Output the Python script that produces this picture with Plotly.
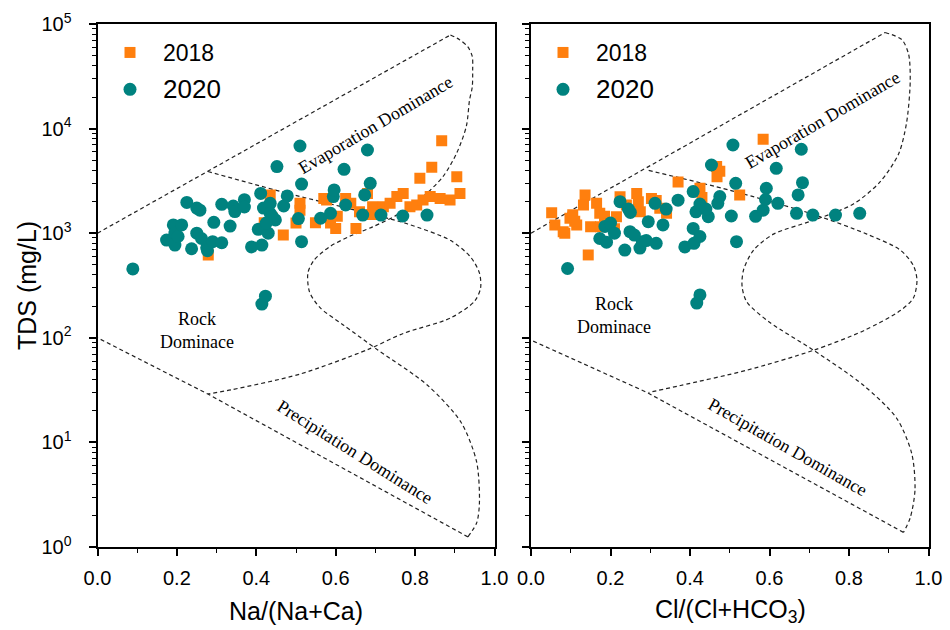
import plotly.graph_objects as go

# ---------------- data ----------------
# Left panel: Na/(Na+Ca) vs TDS
na_2018 = [0.279, 0.435, 0.42, 0.44, 0.468, 0.51, 0.51, 0.50, 0.549, 0.57, 0.587, 0.60, 0.604,
           0.625, 0.638, 0.651, 0.68, 0.693, 0.705, 0.72, 0.737, 0.754, 0.77, 0.787, 0.804,
           0.812, 0.82, 0.838, 0.842, 0.863, 0.867, 0.888, 0.905, 0.913, 0.577, 0.66, 0.69]
tds_na_2018 = [620, 2320, 1260, 1400, 960, 1930, 1660, 1250, 1260, 2150, 1250, 1110, 1450,
               2150, 1930, 1110, 2400, 1790, 1510, 1790, 1930, 2240, 2400, 1790, 1860,
               3350, 2080, 2240, 4270, 2150, 7660, 2080, 3470, 2400, 2080, 1600, 1510]

na_2020 = [0.089, 0.174, 0.191, 0.195, 0.195, 0.203, 0.212, 0.225, 0.237, 0.25, 0.25, 0.258,
           0.262, 0.275, 0.277, 0.29, 0.293, 0.313, 0.313, 0.334, 0.342, 0.346, 0.37, 0.37,
           0.388, 0.405, 0.411, 0.414, 0.414, 0.418, 0.423, 0.43, 0.435, 0.435, 0.448, 0.452,
           0.469, 0.478, 0.506, 0.51, 0.514, 0.514, 0.562, 0.587, 0.594, 0.596, 0.621, 0.625,
           0.668, 0.673, 0.68, 0.687, 0.714, 0.769, 0.83, 0.44, 0.425]
tds_na_2020 = [455, 860, 1200, 1000, 770, 930, 1200, 1970, 710, 1740, 1000, 1660,
               890, 725, 680, 830, 1270, 1890, 810, 1170, 1820, 1610, 2090, 1780,
               740, 1090, 2400, 770, 210, 1740, 250, 1000, 1930, 1550, 1340, 4330,
               1820, 2270, 1380, 6820, 2950, 830, 1390, 1550, 2240, 2590, 4080, 1860,
               1490, 2320, 6240, 3000, 1490, 1460, 1490, 1450, 1250]

# Right panel: Cl/(Cl+HCO3) vs TDS
cl_2018 = [0.052, 0.06, 0.081, 0.085, 0.098, 0.105, 0.115, 0.136, 0.132, 0.144, 0.15, 0.165,
           0.173, 0.175, 0.185, 0.215, 0.224, 0.24, 0.266, 0.27, 0.275, 0.303, 0.315, 0.324,
           0.341, 0.37, 0.425, 0.43, 0.467, 0.468, 0.475, 0.525, 0.584, 0.21, 0.11]
tds_cl_2018 = [1570, 1200, 1035, 1000, 1390, 1500, 1200, 2320, 1860, 620, 1150, 1930,
               1550, 1150, 1450, 1440, 2230, 1860, 2400, 2000, 1600, 2150, 2050, 1730,
               1550, 3090, 2690, 2200, 4330, 3470, 3900, 2320, 7900, 1100, 1300]

cl_2020 = [0.092, 0.173, 0.186, 0.19, 0.20, 0.224, 0.236, 0.245, 0.25, 0.249, 0.274, 0.28,
           0.29, 0.295, 0.312, 0.315, 0.332, 0.34, 0.37, 0.387, 0.408, 0.408, 0.41, 0.415,
           0.425, 0.425, 0.446, 0.454, 0.47, 0.475, 0.504, 0.508, 0.515, 0.517, 0.565, 0.584,
           0.592, 0.59, 0.617, 0.621, 0.668, 0.672, 0.683, 0.68, 0.709, 0.766, 0.827, 0.425,
           0.417, 0.26, 0.21, 0.44]
tds_cl_2020 = [460, 890, 1160, 820, 1250, 2000, 690, 1700, 1580, 1035, 720, 830,
               850, 1290, 1930, 800, 1200, 1700, 2070, 740, 2500, 1110, 800, 1600,
               1900, 930, 1440, 4490, 1930, 2240, 1460, 6970, 3000, 830, 1450, 1660,
               2690, 2100, 4170, 1930, 1550, 2320, 3040, 6350, 1490, 1490, 1550, 257,
               215, 960, 1000, 1700]

# Gibbs boundary curves (left panel), TDS values
L_upper_x = [0.0, 0.889]
L_upper_y = [1000, 78500]
L_outer_x = [0.889, 0.912, 0.933, 0.944, 0.945, 0.944, 0.937, 0.929, 0.904, 0.87, 0.82, 0.752,
             0.693, 0.635, 0.584, 0.545, 0.530, 0.534, 0.56, 0.62, 0.705, 0.832, 0.916, 0.955,
             0.962, 0.955, 0.933]
L_outer_y = [78500, 70800, 60300, 49000, 36300, 25100, 18600, 10500, 5750, 3470, 2240, 1480,
             1150, 933, 740, 550, 417, 275, 195, 132, 77, 35, 15.5, 6.5, 2.6, 1.7, 1.25]
L_lower_x = [0.933, 0.278, 0.0]
L_lower_y = [1.25, 29, 100]
L_inner_x = [0.278, 0.48, 0.65, 0.78, 0.89, 0.94, 0.962, 0.965, 0.95, 0.89, 0.77, 0.68, 0.51,
             0.34, 0.278]
L_inner_y = [3890, 2400, 1660, 1230, 850, 590, 417, 300, 224, 155, 110, 77, 45, 32, 29]

# Gibbs boundary curves (right panel)
R_upper_x = [0.0, 0.891]
R_upper_y = [1000, 83000]
R_outer_x = [0.891, 0.933, 0.95, 0.954, 0.945, 0.925, 0.878, 0.811, 0.711, 0.61, 0.56, 0.535,
             0.531, 0.543, 0.60, 0.711, 0.837, 0.92, 0.958, 0.966, 0.954, 0.937]
R_outer_y = [83000, 70800, 51300, 28200, 11500, 5750, 3090, 1900, 1330, 980, 690, 450,
             310, 220, 141, 76, 35, 17, 7.8, 3.5, 1.9, 1.38]
R_lower_x = [0.937, 0.292, 0.0]
R_lower_y = [1.38, 30, 95]
R_inner_x = [0.296, 0.501, 0.711, 0.845, 0.929, 0.962, 0.971, 0.962, 0.929, 0.837, 0.711,
             0.543, 0.376, 0.296]
R_inner_y = [3980, 2570, 1510, 980, 690, 490, 355, 240, 182, 117, 76, 49, 35, 30]

x_tick_vals = [0.0, 0.2, 0.4, 0.6, 0.8, 1.0]
x_tick_text = ["0.0", "0.2", "0.4", "0.6", "0.8", "1.0"]
y_tick_vals = [1, 10, 100, 1000, 10000, 100000]
y_tick_text = ["10<sup>0</sup>", "10<sup>1</sup>", "10<sup>2</sup>", "10<sup>3</sup>",
               "10<sup>4</sup>", "10<sup>5</sup>"]

ORANGE = "#FF7F0E"
TEAL = "#00827F"
LINE = "#222222"

fig = go.Figure()

def add_panel(xa, ya, xs18, ys18, xs20, ys20, up, outer, low, inner, leg, grp):
    for (bx, by, shape) in [(up[0], up[1], "linear"), (outer[0], outer[1], "spline"),
                            (low[0], low[1], "linear"), (inner[0], inner[1], "spline")]:
        fig.add_trace(go.Scatter(x=bx, y=by, mode="lines", xaxis=xa, yaxis=ya,
                                 line=dict(color=LINE, width=1.2, dash="4px,3px", shape=shape,
                                           smoothing=0.8),
                                 showlegend=False, hoverinfo="skip"))
    fig.add_trace(go.Scatter(x=xs18, y=ys18, mode="markers", xaxis=xa, yaxis=ya,
                             name="2018", legend=leg, legendgroup=grp + "18",
                             marker=dict(symbol="square", size=11, color=ORANGE)))
    fig.add_trace(go.Scatter(x=xs20, y=ys20, mode="markers", xaxis=xa, yaxis=ya,
                             name="<span style='font-size:26px'>2020</span>", legend=leg,
                             legendgroup=grp + "20",
                             marker=dict(symbol="circle", size=13, color=TEAL)))

add_panel("x", "y", na_2018, tds_na_2018, na_2020, tds_na_2020,
          (L_upper_x, L_upper_y), (L_outer_x, L_outer_y), (L_lower_x, L_lower_y),
          (L_inner_x, L_inner_y), "legend", "a")
add_panel("x2", "y2", cl_2018, tds_cl_2018, cl_2020, tds_cl_2020,
          (R_upper_x, R_upper_y), (R_outer_x, R_outer_y), (R_lower_x, R_lower_y),
          (R_inner_x, R_inner_y), "legend2", "b")

W, H = 950, 630
top_px, bot_px = 24, 547
yd = [1 - bot_px / H, 1 - top_px / H]

axis_font = dict(family="Liberation Sans, Arial", size=20, color="black")
xcommon = dict(range=[0, 1], tickvals=x_tick_vals, ticktext=x_tick_text, ticks="outside",
               ticklen=7, tickwidth=1.5, tickcolor="black", showline=True, linewidth=2,
               linecolor="black", mirror=True, showgrid=False, zeroline=False,
               tickfont=axis_font, ticklabelstandoff=5, automargin=False,
               minor=dict(dtick=0.1, tick0=0, ticks="outside", ticklen=4, tickwidth=1.2,
                          tickcolor="black", showgrid=False))
ycommon = dict(type="log", range=[0, 5], tickvals=y_tick_vals, ticktext=y_tick_text,
               ticks="outside", ticklen=7, tickwidth=1.5, tickcolor="black", showline=True,
               linewidth=2, linecolor="black", mirror=True, showgrid=False, zeroline=False,
               tickfont=axis_font, ticklabelstandoff=13, automargin=False,
               minor=dict(ticks="outside", ticklen=4, tickwidth=1, tickcolor="black",
                          showgrid=False, dtick="D1"))

legend_font = dict(family="Liberation Sans, Arial", size=23, color="black")
fig.update_layout(
    template="none",
    width=W, height=H, paper_bgcolor="white", plot_bgcolor="white",
    margin=dict(l=0, r=0, t=0, b=0, autoexpand=False),
    xaxis=dict(domain=[97.5 / W, 494.5 / W], anchor="y", **xcommon),
    yaxis=dict(domain=yd, anchor="x", **ycommon),
    xaxis2=dict(domain=[531 / W, 928.5 / W], anchor="y2", **xcommon),
    yaxis2=dict(domain=yd, anchor="x2", showticklabels=False, **ycommon),
    legend=dict(x=97 / W, y=1 - 31 / H, xanchor="left", yanchor="top", font=legend_font,
                bgcolor="rgba(0,0,0,0)", itemwidth=56, tracegroupgap=4,
                traceorder="grouped"),
    legend2=dict(x=530 / W, y=1 - 31 / H, xanchor="left", yanchor="top", font=legend_font,
                 bgcolor="rgba(0,0,0,0)", itemwidth=56, tracegroupgap=4,
                 traceorder="grouped"),
    showlegend=True,
)

serif = dict(family="Liberation Serif, Times New Roman", size=18, color="black")
ann = [
    dict(x=0.70, y=4.03, xref="x", yref="y", text="Evaporation Dominance", textangle=-30.5),
    dict(x=0.251, y=2.07, xref="x", yref="y", text="Rock<br>Dominace", textangle=0),
    dict(x=0.648, y=0.905, xref="x", yref="y", text="Precipitation Dominance", textangle=32),
    dict(x=0.733, y=4.08, xref="x2", yref="y2", text="Evaporation Dominance", textangle=-30.2),
    dict(x=0.208, y=2.21, xref="x2", yref="y2", text="Rock<br>Dominace", textangle=0),
    dict(x=0.645, y=0.956, xref="x2", yref="y2", text="Precipitation Dominance", textangle=29.7),
]
for a in ann:
    fig.add_annotation(showarrow=False, font=serif, xanchor="center", yanchor="middle", **a)

title_font = dict(family="Liberation Sans, Arial", size=25, color="black")
fig.add_annotation(x=296 / W, y=1 - 611 / H, xref="paper", yref="paper", text="Na/(Na+Ca)",
                   showarrow=False, font=title_font, xanchor="center", yanchor="middle")
fig.add_annotation(x=730 / W, y=1 - 611 / H, xref="paper", yref="paper",
                   text="Cl/(Cl+HCO<sub>3</sub>)",
                   showarrow=False, font=title_font, xanchor="center", yanchor="middle")
fig.add_annotation(x=27 / W, y=1 - 286 / H, xref="paper", yref="paper", text="TDS (mg/L)",
                   showarrow=False, font=title_font, textangle=-90,
                   xanchor="center", yanchor="middle")

fig.write_html("out.html", config={"displayModeBar": False},
               post_script="document.body.style.margin='0';document.body.style.overflow='hidden';")
